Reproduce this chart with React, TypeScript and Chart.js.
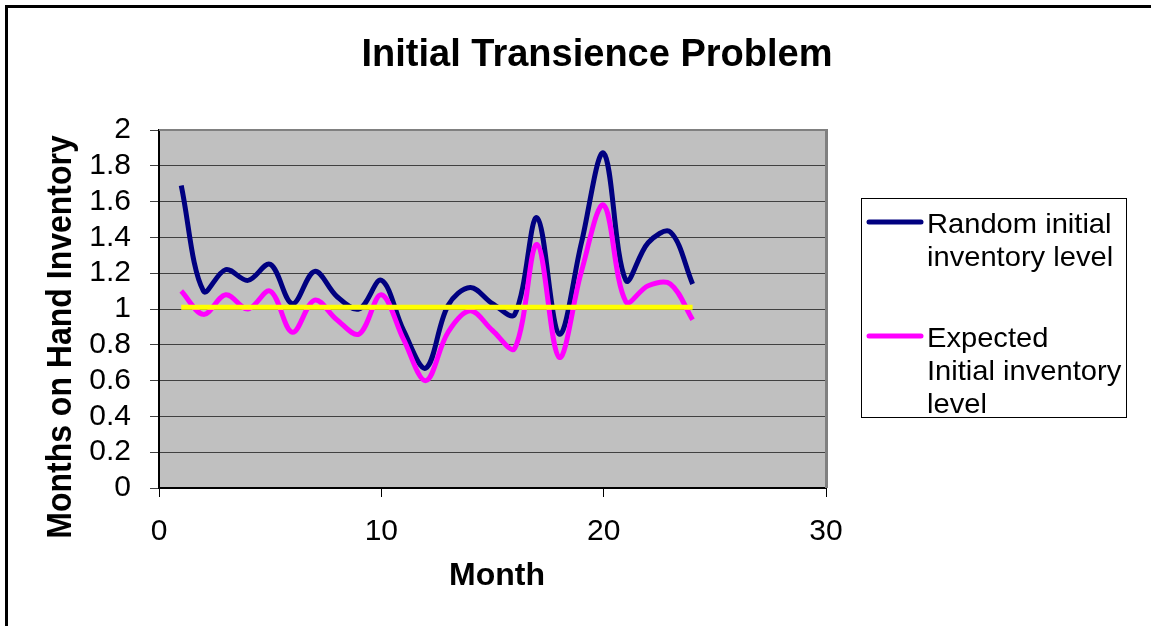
import React, { useEffect, useRef } from "react";
import { Chart, registerables } from "chart.js";

Chart.register(...registerables);

// ---- data ----
const months = [1, 2, 3, 4, 5, 6, 7, 8, 9, 10, 11, 12, 13, 14, 15, 16, 17, 18, 19, 20, 21, 22, 23, 24];
const randomInitial = [1.69, 1.10, 1.22, 1.16, 1.25, 1.03, 1.21, 1.07, 1.00, 1.16, 0.88, 0.67, 1.02, 1.12, 1.03, 0.97, 1.51, 0.86, 1.37, 1.87, 1.16, 1.37, 1.43, 1.14];
const expectedInitial = [1.10, 0.97, 1.08, 1.00, 1.10, 0.87, 1.05, 0.94, 0.86, 1.08, 0.83, 0.60, 0.87, 0.99, 0.88, 0.78, 1.36, 0.73, 1.21, 1.58, 1.04, 1.13, 1.14, 0.94];
const targetLevel = [1.01, 1.01, 1.01, 1.01, 1.01, 1.01, 1.01, 1.01, 1.01, 1.01, 1.01, 1.01, 1.01, 1.01, 1.01, 1.01, 1.01, 1.01, 1.01, 1.01, 1.01, 1.01, 1.01, 1.01];

const seriesNames = ["Random initial inventory level", "Expected Initial inventory level", "Target"];
const legendLines = [["Random initial", "inventory level"], ["Expected", "Initial inventory", "level"]];
const yTickLabels = ["0", "0.2", "0.4", "0.6", "0.8", "1", "1.2", "1.4", "1.6", "1.8", "2"];
const xTickLabels = ["0", "10", "20", "30"];
const chartTitle = "Initial Transience Problem";
const xTitle = "Month";
const yTitle = "Months on Hand Inventory";

const W = 1151;
const H = 626;
const FONT = "'Liberation Sans', Arial, sans-serif";

function toPoints(xs: number[], ys: number[]) {
  return xs.map((x, i) => ({ x, y: ys[i] }));
}

function drawText(
  ctx: CanvasRenderingContext2D,
  text: string,
  x: number,
  y: number,
  font: string,
  align: CanvasTextAlign,
  baseline: CanvasTextBaseline,
  stretch = 1,
  rotate = 0
) {
  ctx.save();
  ctx.translate(x, y);
  if (rotate) ctx.rotate(rotate);
  if (rotate) ctx.scale(1, stretch);
  else ctx.scale(stretch, 1);
  ctx.font = font;
  ctx.fillStyle = "#000";
  ctx.textAlign = align;
  ctx.textBaseline = baseline;
  ctx.fillText(text, 0, 0);
  ctx.restore();
}

const decorPlugin = {
  id: "decor",
  beforeDraw(chart: any) {
    const { ctx, chartArea } = chart;
    ctx.save();
    ctx.fillStyle = "#ffffff";
    ctx.fillRect(0, 0, chart.width, chart.height);
    ctx.fillStyle = "#C0C0C0";
    ctx.fillRect(chartArea.left, chartArea.top, chartArea.right - chartArea.left, chartArea.bottom - chartArea.top);
    ctx.restore();
  },
  afterDraw(chart: any) {
    const { ctx, chartArea } = chart;
    ctx.save();
    // plot frame top/right (grey)
    ctx.strokeStyle = "#808080";
    ctx.lineWidth = 2;
    ctx.beginPath();
    ctx.moveTo(chartArea.left, chartArea.top);
    ctx.lineTo(chartArea.right + 1, chartArea.top);
    ctx.stroke();
    ctx.lineWidth = 3;
    ctx.beginPath();
    ctx.moveTo(chartArea.right + 0.5, chartArea.top - 1);
    ctx.lineTo(chartArea.right + 0.5, chartArea.bottom);
    ctx.stroke();

    // outer frame
    ctx.strokeStyle = "#000";
    ctx.lineWidth = 3;
    ctx.beginPath();
    ctx.moveTo(6.5, H);
    ctx.lineTo(6.5, 6.5);
    ctx.lineTo(W, 6.5);
    ctx.stroke();
    ctx.restore();

    // titles
    drawText(ctx, chartTitle, 597, 66, `bold 38px ${FONT}`, "center", "alphabetic");
    drawText(ctx, xTitle, 497, 585, `bold 32px ${FONT}`, "center", "alphabetic");
    drawText(ctx, yTitle, 71, 337, `bold 32px ${FONT}`, "center", "alphabetic", 1.1, -Math.PI / 2);

    // legend
    ctx.save();
    ctx.strokeStyle = "#000";
    ctx.lineWidth = 1;
    ctx.strokeRect(861.5, 198.5, 265, 219);
    const colors = ["#000080", "#FF00FF"];
    const lineYs = [222, 336];
    const baselines = [233, 347];
    for (let i = 0; i < legendLines.length; i++) {
      ctx.strokeStyle = colors[i];
      ctx.lineWidth = 5;
      ctx.lineCap = "round";
      ctx.beginPath();
      ctx.moveTo(869, lineYs[i]);
      ctx.lineTo(921, lineYs[i]);
      ctx.stroke();
      legendLines[i].forEach((t, j) => {
        drawText(ctx, t, 927, baselines[i] + j * 33, `28px ${FONT}`, "left", "alphabetic", 1.04);
      });
    }
    ctx.restore();
  },
};

export default function App() {
  const ref = useRef<HTMLCanvasElement | null>(null);

  useEffect(() => {
    if (!ref.current) return;
    const chart = new Chart(ref.current, {
      type: "scatter",
      data: {
        datasets: [
          {
            label: seriesNames[0],
            data: toPoints(months, randomInitial),
            borderColor: "#000080",
            backgroundColor: "#000080",
            borderWidth: 5,
            showLine: true,
            pointRadius: 0,
            tension: 0.35,
            order: 3,
          },
          {
            label: seriesNames[1],
            data: toPoints(months, expectedInitial),
            borderColor: "#FF00FF",
            backgroundColor: "#FF00FF",
            borderWidth: 5,
            showLine: true,
            pointRadius: 0,
            tension: 0.35,
            order: 2,
          },
          {
            label: seriesNames[2],
            data: toPoints(months, targetLevel),
            borderColor: "#FFFF00",
            backgroundColor: "#FFFF00",
            borderWidth: 5,
            showLine: true,
            pointRadius: 0,
            tension: 0,
            order: 1,
          },
        ],
      },
      options: {
        animation: false,
        responsive: false,
        devicePixelRatio: 1,
        layout: { padding: { top: 130, right: W - 826, left: 0, bottom: 0 } },
        plugins: {
          legend: { display: false },
          title: { display: false },
          tooltip: { enabled: false },
        },
        scales: {
          x: {
            type: "linear",
            min: 0,
            max: 30,
            ticks: {
              stepSize: 10,
              color: "#000",
              font: { family: FONT, size: 30 },
              padding: 17,
              maxRotation: 0,
              autoSkip: false,
              callback: (v: any) => xTickLabels[Math.round(Number(v) / 10)] ?? "",
            },
            grid: { drawOnChartArea: false, drawTicks: true, tickLength: 9, color: "#000", lineWidth: 1 },
            border: { display: true, color: "#000", width: 2 },
            afterFit: (s: any) => {
              s.height = H - 488;
            },
          },
          y: {
            min: 0,
            max: 2,
            ticks: {
              stepSize: 0.2,
              color: "#000",
              font: { family: FONT, size: 30, lineHeight: 1 },
              padding: 19,
              autoSkip: false,
              callback: (v: any) => yTickLabels[Math.round(Number(v) / 0.2)] ?? "",
            },
            grid: { color: "#404040", lineWidth: 1, tickLength: 9, drawTicks: true },
            border: { display: true, color: "#000", width: 2 },
            afterFit: (s: any) => {
              s.width = 159;
            },
          },
        },
      },
      plugins: [decorPlugin],
    });
    return () => chart.destroy();
  }, []);

  return (
    <div style={{ position: "absolute", left: 0, top: 0, width: W, height: H }}>
      <canvas ref={ref} width={W} height={H} style={{ width: W, height: H }} />
    </div>
  );
}
